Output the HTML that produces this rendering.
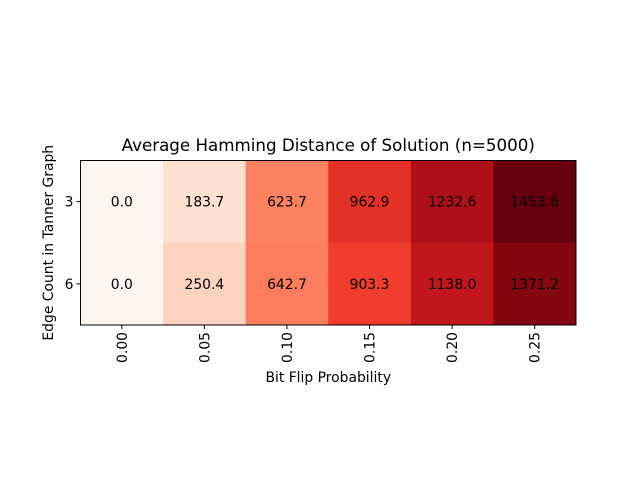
<!DOCTYPE html>
<html><head><meta charset="utf-8"><style>body{margin:0;background:#fff}svg{display:block;font-family:"DejaVu Sans","Liberation Sans",sans-serif}</style></head>
<body>
<svg id="c" width="640" height="480" viewBox="0 0 640 480"></svg>
<script>
const xLabels = ["0.00","0.05","0.10","0.15","0.20","0.25"];
const yLabels = ["3","6"];
const row3 = [0.0,183.7,623.7,962.9,1232.6,1453.6];
const row6 = [0.0,250.4,642.7,903.3,1138.0,1371.2];
const values = [row3,row6];

const svg=document.getElementById('c');
const NS="http://www.w3.org/2000/svg";
const L=80.5,R=576,T=160.5,B=325;
const cw=(R-L)/xLabels.length, ch=(B-T)/yLabels.length;
const xPos=i=>L+i*cw, yPos=j=>T+j*ch;
const stops=["#fff5f0","#fee0d2","#fcbba1","#fc9272","#fb6a4a","#ef3b2c","#cb181d","#a50f15","#67000d"].map(h=>[1,3,5].map(k=>parseInt(h.substr(k,2),16)));
const all=values.flat(), vmin=Math.min(...all), vmax=Math.max(...all);
function color(v){let t=(v-vmin)/(vmax-vmin)*8;let i=Math.min(7,Math.floor(t));let f=t-i;const a=stops[i],b=stops[i+1];return `rgb(${a.map((x,k)=>Math.round(x+(b[k]-x)*f)).join(',')})`;}
function el(tag,attrs,text){const e=document.createElementNS(NS,tag);for(const k in attrs)e.setAttribute(k,attrs[k]);if(text!==undefined)e.textContent=text;svg.appendChild(e);return e;}
values.forEach((row,j)=>row.forEach((v,i)=>{
  const r=el('rect',{x:xPos(i),y:yPos(j),width:cw+0.5,height:ch+0.5,fill:color(v)});
  
  
  const t=el('text',{x:xPos(i)+cw/2,y:yPos(j)+ch/2+5,'text-anchor':'middle','font-size':13.9,fill:'#000'},v.toFixed(1));
  
  
}));
const fr=el('rect',{x:L,y:T,width:R-L,height:B-T,fill:'none',stroke:'#000','stroke-width':1});


xLabels.forEach((s,i)=>{const x=xPos(i)+cw/2;
  el('line',{x1:x,x2:x,y1:B,y2:B+4,stroke:'#000'});
  const t=el('text',{transform:`translate(${x+5},${B+7}) rotate(-90)`,'text-anchor':'end','font-size':13.9},s);
  
  
});
yLabels.forEach((s,j)=>{const y=yPos(j)+ch/2;
  el('line',{x1:L-4,x2:L,y1:y,y2:y,stroke:'#000'});
  const t=el('text',{x:L-7,y:y+5,'text-anchor':'end','font-size':13.9},s);
  
  
});
const xt=el('text',{x:(L+R)/2,y:382,'text-anchor':'middle','font-size':13.9},'Bit Flip Probability');


const yt=el('text',{transform:`translate(53,${(T+B)/2}) rotate(-90)`,'text-anchor':'middle','font-size':13.9},'Edge Count in Tanner Graph');


const tt=el('text',{x:(L+R)/2,y:151,'text-anchor':'middle','font-size':16.7},'Average Hamming Distance of Solution (n=5000)');


</script>
</body></html>
